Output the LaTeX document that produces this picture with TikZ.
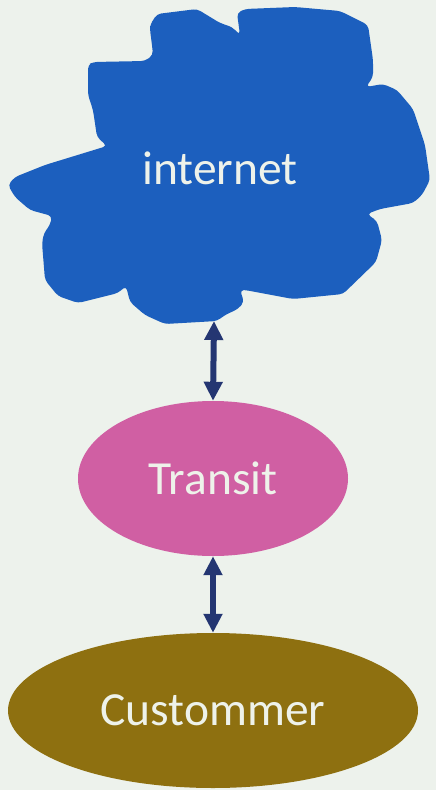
\documentclass[tikz,border=0pt]{standalone}
\usepackage{fontspec}
\setmainfont{Carlito}
\usetikzlibrary{shapes.geometric,arrows.meta}

\definecolor{bgcol}{HTML}{EDF2EC}
\definecolor{cloudblue}{HTML}{1C5FBE}
\definecolor{transitpink}{HTML}{D05FA3}
\definecolor{custolive}{HTML}{8E7010}
\definecolor{linknavy}{HTML}{243672}
\definecolor{labelcol}{HTML}{EEF2EA}

\tikzset{
  lbl/.style={text=labelcol,font=\fontsize{47.5}{56}\selectfont},
  blob/.style={ellipse,inner sep=0pt,lbl},
  link/.style={linknavy,line width=6pt,{Triangle[width=18pt,length=19pt]}-{Triangle[width=18pt,length=19pt]}}
}

\begin{document}
\begin{tikzpicture}[x=1pt,y=-1pt]

\fill[bgcol] (0,0) rectangle (436,790);
\useasboundingbox (0,0) rectangle (436,790);

% cloud
\fill[cloudblue,rounded corners=4pt] (157,14) -- (197,9) -- (220,23) -- (232,27) -- (240,35) -- (237,13)
  -- (245,9) -- (295,7) -- (340,11) -- (368,25) -- (373,60) -- (373,77) -- (366,87)
  -- (383,84) -- (397,90) -- (413,109) -- (425,145) -- (430,180) -- (422,195)
  -- (413,203) -- (380,209) -- (367,214) -- (377,221) -- (382,240) -- (376,262)
  -- (343,294) -- (293,299) -- (245,290) -- (240,290) -- (244,302) -- (238,309)
  -- (225,315) -- (217,321) -- (165,324) -- (145,315) -- (130,302) -- (126,286)
  -- (118,293) -- (78,303) -- (58,296) -- (45,280) -- (42,243) -- (44,233)
  -- (50,225) -- (52,216) -- (30,210) -- (15,197) -- (8,185) -- (15,177)
  -- (45,165) -- (107,146) -- (97,137) -- (93,110) -- (88,95) -- (88,65)
  -- (93,62) -- (145,61) -- (153,55) -- (152,45) -- (150,30) -- (150,25) -- cycle;

\node[lbl] (cloud) at (220,168) {internet};
\coordinate (cloudbot) at (214,321);

\node[blob,fill=transitpink,minimum width=270pt,minimum height=155pt] (transit) at (213,478.5) {Transit};
\node[blob,fill=custolive,minimum width=410pt,minimum height=155pt] (customer) at (213,710.5) {Custommer};

\draw[link] (cloudbot) -- (transit.north);
\draw[link] (transit.south) -- (customer.north);

\end{tikzpicture}
\end{document}
